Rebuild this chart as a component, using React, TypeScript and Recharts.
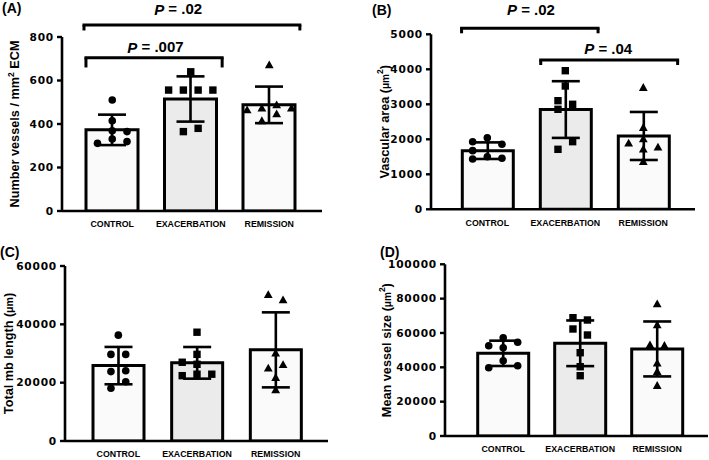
import React from 'react';
import { ComposedChart, Bar, Cell, ErrorBar, Scatter, XAxis, YAxis, ReferenceLine, ReferenceDot } from 'recharts';

const groups = ['CONTROL', 'EXACERBATION', 'REMISSION'];
const barFills = ['#fafafa', '#ebebeb', '#fafafa'];

// (A) number of vessels / mm2 ECM
const vesselsMean = [373, 515, 488];
const vesselsSd = [70, 104, 84];
const vesselsPoints = [
  [510, 415, 369, 365, 331, 311, 319],
  [640, 556, 556, 556, 556, 365, 380],
  [671, 464, 472, 487, 472, 446, 414],
];
const vesselsJitter = [
  [0, 0, 0, 2, 0, -2, 2],
  [0, -3, -1, 1, 3, -1, 1],
  [0, -3, -1, 1, 3, 1, -1],
];
const vesselsTicks = [0, 200, 400, 600, 800];

// (B) vascular area
const areaMean = [1675, 2850, 2095];
const areaSd = [237, 810, 686];
const areaPoints = [
  [1932, 2046, 1857, 1676, 1437, 1503, 1457],
  [3960, 3523, 3103, 3000, 2857, 1932, 1714],
  [3474, 2331, 2009, 1886, 1771, 1714, 1360],
];
const areaJitter = [
  [-2, 0, 2, -2, -2, 0, 2],
  [0, 0, -1, 1, -1, 1, -1],
  [0, 0, 0, -2, 2, 0, 0],
];
const areaTicks = [0, 1000, 2000, 3000, 4000, 5000];

// (C) total mb length
const lengthMean = [25850, 26800, 31250];
const lengthSd = [6400, 5430, 12860];
const lengthPoints = [
  [36300, 29700, 29700, 23800, 24100, 20300, 18100],
  [37300, 29700, 27000, 26300, 22400, 22900, 22900],
  [50100, 48300, 30100, 24900, 26100, 21700, 17500],
];
const lengthJitter = [
  [0, -1, 1, -1, 1, 1, -1],
  [0, 0, -2, 0, -2, 0, 2],
  [-1, 1, 0, -1, 1, 0, 0],
];
const lengthTicks = [0, 20000, 40000, 60000];

// (D) mean vessel size
const sizeMean = [48150, 54000, 50700];
const sizeSd = [7370, 13300, 16000];
const sizePoints = [
  [57250, 52600, 54570, 51430, 43850, 39780, 40940],
  [68900, 67560, 62320, 58820, 48510, 40360, 35120],
  [76880, 64650, 53000, 52590, 42340, 37450, 29300],
];
const sizeJitter = [
  [0, -2, 2, 0, 0, -2, 2],
  [-1, 1, -1, 1, 0, 0, 0],
  [0, 0, -1, 1, 0, 0, 0],
];
const sizeTicks = [0, 20000, 40000, 60000, 80000, 100000];

const JIT = 0.094;
const FONT = '"Liberation Sans", Arial, sans-serif';

const Circle = (p: any) => <circle cx={p.cx} cy={p.cy} r={3.8} fill="#000" />;
const Square = (p: any) => <rect x={p.cx - 3.7} y={p.cy - 3.7} width={7.4} height={7.4} fill="#000" />;
const Triangle = (p: any) => (
  <path d={`M${p.cx},${p.cy - 4.6}L${p.cx + 4.4},${p.cy + 3.2}L${p.cx - 4.4},${p.cy + 3.2}Z`} fill="#000" />
);
const shapes = [Circle, Square, Triangle];

const labelA = (
  <>
    Number vessels / mm<tspan dy={-4.5} fontSize={8.5}>2</tspan>
    <tspan dy={4.5}> ECM</tspan>
  </>
);
const labelB = (
  <>
    Vascular area (<tspan fontSize={10}>μm</tspan>
    <tspan dy={-4.5} fontSize={8.5}>2</tspan>
    <tspan dy={4.5}>)</tspan>
  </>
);
const labelC = (
  <>
    Total mb length (<tspan fontSize={10.5}>μm</tspan>)
  </>
);
const labelD = (
  <>
    Mean vessel size (<tspan fontSize={10}>μm</tspan>
    <tspan dy={-4.5} fontSize={8.5}>2</tspan>
    <tspan dy={4.5}>)</tspan>
  </>
);

type Bracket = { from: number; to: number; y: number; tip: number; text: string; tx: number; ty: number };

function Panel(props: any) {
  const { box, title, mean, sd, points, jitter, ticks, yLabel, brackets, cfg } = props;
  const table = groups.map((g, i) => ({ group: g, x: i, mean: mean[i], sd: sd[i] }));
  const top = ticks[ticks.length - 1];
  return (
    <div style={{ position: 'absolute', left: box.left, top: box.top, width: box.w, height: box.h }}>
      <ComposedChart
        width={box.w}
        height={box.h}
        data={table}
        margin={{ top: cfg.top, right: cfg.right, bottom: 0, left: 0 }}
        style={{ position: 'absolute', left: 0, top: 0 }}
      >
        <XAxis
          xAxisId="cat"
          dataKey="group"
          type="category"
          padding={cfg.pad}
          height={cfg.xHeight}
          tickLine={false}
          tickSize={0}
          tickMargin={10}
          axisLine={{ stroke: '#000', strokeWidth: 2.6 }}
          tick={{ fill: '#000', fontSize: 8.8, fontWeight: 'bold', fontFamily: FONT }}
          interval={0}
        />
        <XAxis xAxisId="n" dataKey="x" type="number" domain={[-0.5, 2.5]} padding={cfg.pad} hide allowDataOverflow />
        <YAxis
          type="number"
          domain={[0, top]}
          ticks={ticks}
          allowDataOverflow
          width={cfg.yWidth}
          tickSize={5}
          tickMargin={3}
          axisLine={{ stroke: '#000', strokeWidth: 2.6 }}
          tickLine={{ stroke: '#000', strokeWidth: 2.4 }}
          tick={{
            fill: '#000',
            fontSize: 10.6,
            letterSpacing: 0.8,
            fontWeight: 'bold',
            fontFamily: '"DejaVu Sans", sans-serif',
          }}
          label={{
            content: (lp: any) => {
              const vb = lp.viewBox;
              const cx = vb.x + vb.width - cfg.labelDx;
              const cy = vb.y + vb.height / 2;
              return (
                <text
                  x={cx}
                  y={cy}
                  transform={`rotate(-90 ${cx} ${cy})`}
                  textAnchor="middle"
                  dominantBaseline="central"
                  fontFamily={FONT}
                  fontWeight="bold"
                  fontSize={12.7}
                  fill="#000"
                >
                  {yLabel}
                </text>
              );
            },
          }}
        />
        <Bar
          xAxisId="cat"
          dataKey="mean"
          barSize={cfg.barSize}
          stroke="#000"
          strokeWidth={3}
          isAnimationActive={false}
        >
          {table.map((_, i) => (
            <Cell key={i} fill={barFills[i]} />
          ))}
          <ErrorBar dataKey="sd" width={14} stroke="#000" strokeWidth={2.6} direction="y" />
        </Bar>
        {points.map((vals: number[], i: number) => (
          <Scatter
            key={i}
            xAxisId="n"
            data={vals.map((v, k) => ({ x: i + jitter[i][k] * JIT, y: v }))}
            dataKey="y"
            shape={shapes[i]}
            isAnimationActive={false}
          />
        ))}
        {brackets.map((b: Bracket, i: number) => [
          <ReferenceLine
            key={`h${i}`}
            xAxisId="n"
            segment={[{ x: b.from, y: b.y }, { x: b.to, y: b.y }]}
            stroke="#000"
            strokeWidth={3}
            strokeLinecap="square"
            ifOverflow="visible"
          />,
          <ReferenceLine
            key={`l${i}`}
            xAxisId="n"
            segment={[{ x: b.from, y: b.y }, { x: b.from, y: b.tip }]}
            stroke="#000"
            strokeWidth={3}
            ifOverflow="visible"
          />,
          <ReferenceLine
            key={`r${i}`}
            xAxisId="n"
            segment={[{ x: b.to, y: b.y }, { x: b.to, y: b.tip }]}
            stroke="#000"
            strokeWidth={3}
            ifOverflow="visible"
          />,
          <ReferenceDot
            key={`t${i}`}
            xAxisId="n"
            x={b.tx}
            y={b.ty}
            r={0}
            fill="none"
            stroke="none"
            ifOverflow="visible"
            label={{
              content: (lp: any) => {
                const vb = lp.viewBox;
                return (
                  <text
                    x={vb.x + vb.width / 2}
                    y={vb.y + vb.height / 2}
                    textAnchor="middle"
                    dominantBaseline="central"
                    fontFamily={FONT}
                    fontWeight="bold"
                    fontSize={15}
                    fill="#000"
                  >
                    <tspan fontStyle="italic">P</tspan> = {b.text}
                  </text>
                );
              },
            }}
          />,
        ])}
      </ComposedChart>
      <div
        style={{
          position: 'absolute',
          left: cfg.titleX,
          top: cfg.titleY,
          fontFamily: FONT,
          fontWeight: 'bold',
          fontSize: 14,
          lineHeight: '12px',
        }}
      >
        {title}
      </div>
    </div>
  );
}

const bracketsA: Bracket[] = [
  { from: -0.36, to: 2.39, y: 855, tip: 830, text: '.02', tx: 0.84, ty: 931 },
  { from: -0.335, to: 1.4, y: 705, tip: 660, text: '.007', tx: 0.55, ty: 755 },
];
const bracketsB: Bracket[] = [
  { from: -0.33, to: 1.42, y: 5171, tip: 5029, text: '.02', tx: 0.56, ty: 5714 },
  { from: 0.685, to: 2.44, y: 4266, tip: 4123, text: '.04', tx: 1.55, ty: 4600 },
];

export default function App() {
  return (
    <div style={{ position: 'absolute', left: 0, top: 0, width: 709, height: 460, background: '#fff', overflow: 'hidden' }}>
      <Panel
        box={{ left: 0, top: 0, w: 355, h: 230 }}
        title="(A)"
        mean={vesselsMean}
        sd={vesselsSd}
        points={vesselsPoints}
        jitter={vesselsJitter}
        ticks={vesselsTicks}
        yLabel={labelA}
        brackets={bracketsA}
        cfg={{ top: 37, right: 33, xHeight: 19, yWidth: 62, pad: { left: 11, right: 13.5 }, barSize: 52, labelDx: 47, titleX: 2, titleY: 2 }}
      />
      <Panel
        box={{ left: 355, top: 0, w: 354, h: 230 }}
        title="(B)"
        mean={areaMean}
        sd={areaSd}
        points={areaPoints}
        jitter={areaJitter}
        ticks={areaTicks}
        yLabel={labelB}
        brackets={bracketsB}
        cfg={{ top: 34.3, right: 14, xHeight: 20.7, yWidth: 76, pad: { left: 17.3, right: 12.7 }, barSize: 51, labelDx: 46, titleX: 17, titleY: 4 }}
      />
      <Panel
        box={{ left: 0, top: 230, w: 355, h: 230 }}
        title="(C)"
        mean={lengthMean}
        sd={lengthSd}
        points={lengthPoints}
        jitter={lengthJitter}
        ticks={lengthTicks}
        yLabel={labelC}
        brackets={[]}
        cfg={{ top: 36, right: 27, xHeight: 19, yWidth: 65, pad: { left: 14, right: 13 }, barSize: 51, labelDx: 56, titleX: 0, titleY: 16 }}
      />
      <Panel
        box={{ left: 355, top: 230, w: 354, h: 230 }}
        title="(D)"
        mean={sizeMean}
        sd={sizeSd}
        points={sizePoints}
        jitter={sizeJitter}
        ticks={sizeTicks}
        yLabel={labelD}
        brackets={[]}
        cfg={{ top: 34.3, right: 1, xHeight: 24, yWidth: 90, pad: { left: 19.7, right: 12.3 }, barSize: 51, labelDx: 58, titleX: 25, titleY: 16 }}
      />
    </div>
  );
}
